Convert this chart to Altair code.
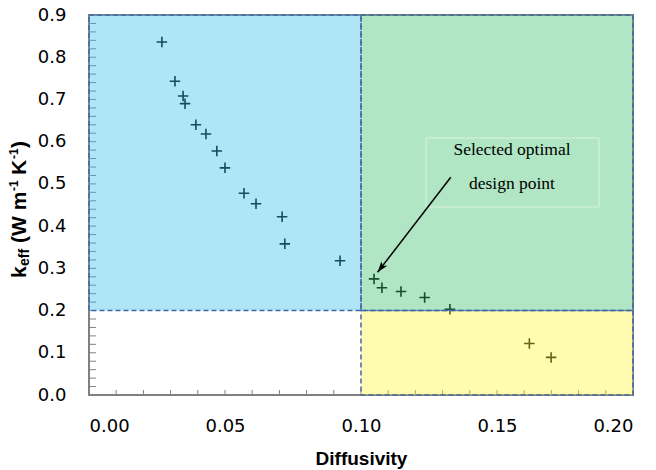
import altair as alt
import pandas as pd

# ---- data ----
diffusivity = [0.0268, 0.0316, 0.0346, 0.0353, 0.0393, 0.0430, 0.0470, 0.0500,
               0.0570, 0.0614, 0.0710, 0.0720, 0.0923, 0.1048, 0.1077, 0.1147,
               0.1234, 0.1327, 0.1619, 0.1699]
keff = [0.836, 0.743, 0.708, 0.690, 0.640, 0.618, 0.578, 0.538,
        0.478, 0.453, 0.422, 0.358, 0.318, 0.275, 0.254, 0.245,
        0.231, 0.203, 0.122, 0.089]

region_name = ["high conductivity", "optimal", "high diffusivity"]
region_x1 = [0.0, 0.1, 0.1]
region_x2 = [0.1, 0.2, 0.2]
region_y1 = [0.2, 0.2, 0.0]
region_y2 = [0.9, 0.9, 0.2]
region_color = ["#34C0EE", "#3AC06C", "#FFF83A"]

x_tick_values = [0.0, 0.05, 0.10, 0.15, 0.20]
y_tick_values = [0.0, 0.1, 0.2, 0.3, 0.4, 0.5, 0.6, 0.7, 0.8, 0.9]
x_minor_ticks = [round(i * 0.01, 2) for i in range(21)]
y_minor_ticks = [round(i * 0.02, 2) for i in range(46)]

note_lines = ["Selected optimal", "design point"]
note_x = [0.1555, 0.1555]
note_y = [0.5685, 0.489]
note_box = {"x1": [0.1239], "x2": [0.1875], "y1": [0.4453], "y2": [0.6087]}
arrow_from = (0.1330, 0.5156)
arrow_to = (0.1061, 0.2906)

# y-axis title pieces (rich text): text, size, x baseline, y start
ytitle_text = ["k", "eff", "(W m", "-1", "K", "-1", ")"]
ytitle_size = [21, 14, 21, 12, 21, 12, 21]
ytitle_x = [-63, -60, -63, -71, -63, -71, -63]
ytitle_y = [263, 251, 228, 176, 160, 144, 133]

# ---- tables ----
pts = pd.DataFrame({"d": diffusivity, "k": keff})
regions = pd.DataFrame({"name": region_name, "x1": region_x1, "x2": region_x2,
                        "y1": region_y1, "y2": region_y2})
xt = pd.DataFrame({"v": x_minor_ticks})
yt = pd.DataFrame({"v": y_minor_ticks})
notes = pd.DataFrame({"t": note_lines, "x": note_x, "y": note_y})
box = pd.DataFrame(note_box)
arrow = pd.DataFrame({"x": [arrow_from[0]], "y": [arrow_from[1]],
                      "x2": [arrow_to[0]], "y2": [arrow_to[1]]})
head = pd.DataFrame({"x": [arrow_to[0]], "y": [arrow_to[1]]})
ytitle = pd.DataFrame({"t": ytitle_text, "s": ytitle_size,
                       "px": ytitle_x, "py": ytitle_y})

W, H = 544, 380
xs = alt.Scale(domain=[0, 0.2], nice=False, zero=False)
ys = alt.Scale(domain=[0, 0.9], nice=False, zero=False)
ax_x = alt.Axis(values=x_tick_values, format=".2f", title="Diffusivity")
ax_y = alt.Axis(values=y_tick_values, format=".1f", title=None)


def X(field):
    return alt.X(field, type="quantitative", scale=xs, axis=ax_x)


def Y(field):
    return alt.Y(field, type="quantitative", scale=ys, axis=ax_y)


ticks_y = alt.Chart(yt).mark_rule(color="#808080", strokeWidth=1).encode(
    y=Y("v"), x=alt.value(0), x2=alt.value(7))
ticks_x = alt.Chart(xt).mark_rule(color="#808080", strokeWidth=1).encode(
    x=X("v"), y=alt.value(H), y2=alt.value(H - 5))

points = alt.Chart(pts).mark_point(
    shape="M-1,0L1,0M0,-1L0,1", size=110, filled=False, color="#000000",
    strokeWidth=1.6, opacity=1).encode(x=X("d"), y=Y("k"))

overlay = alt.Chart(regions).mark_rect(opacity=0.4).encode(
    x=X("x1"), x2="x2", y=Y("y1"), y2="y2",
    color=alt.Color("name:N", scale=alt.Scale(domain=region_name, range=region_color),
                    legend=None),
)

outlines = alt.Chart(regions).mark_rect(
    fill=None, stroke="#3F67A6", strokeWidth=1.5, strokeDash=[5, 3]).encode(
    x=X("x1"), x2="x2", y=Y("y1"), y2="y2")

note_frame = alt.Chart(box).mark_rect(
    fill=None, stroke="#FFFFFF", strokeOpacity=0.55, strokeWidth=1).encode(
    x=X("x1"), x2="x2", y=Y("y1"), y2="y2")

note_text = alt.Chart(notes).mark_text(
    font="Liberation Serif", fontSize=17.5, color="#000000", align="center",
    baseline="alphabetic").encode(x=X("x"), y=Y("y"), text="t")

arrow_line = alt.Chart(arrow).mark_rule(color="#000000", strokeWidth=1.5).encode(
    x=X("x"), y=Y("y"), x2="x2", y2="y2")

arrow_head = alt.Chart(head).mark_point(
    shape="M0,0L-0.33,1L0,0.75L0.33,1Z", size=500, filled=True, color="#000000",
    opacity=1, angle=217.5).encode(x=X("x"), y=Y("y"))

ytitle_layer = alt.Chart(ytitle).mark_text(
    font="Liberation Sans", fontWeight="bold", color="#000000", angle=270,
    align="left", baseline="alphabetic").encode(
    x=alt.X("px:Q", scale=None, axis=None), y=alt.Y("py:Q", scale=None, axis=None),
    text="t", size=alt.Size("s:Q", scale=None, legend=None))

chart = alt.layer(
    points, ticks_y, ticks_x, overlay, outlines, note_frame, note_text,
    arrow_line, arrow_head, ytitle_layer
).properties(
    width=W, height=H,
    autosize=alt.AutoSizeParams(type="none"),
    padding={"left": 81, "top": 7, "right": 15, "bottom": 74},
).configure_view(
    stroke="#808080", strokeWidth=2
).configure_axis(
    labelFont="DejaVu Sans", labelFontSize=18, labelColor="#000000",
    domain=False, ticks=False, tickSize=0, grid=False, labelPadding=22,
    titleFont="Liberation Sans", titleFontSize=19, titleFontWeight="bold",
    titleColor="#000000", titlePadding=14,
).configure_axisY(labelPadding=23)

chart.save("out.html", embed_options={"renderer": "svg", "actions": False})
